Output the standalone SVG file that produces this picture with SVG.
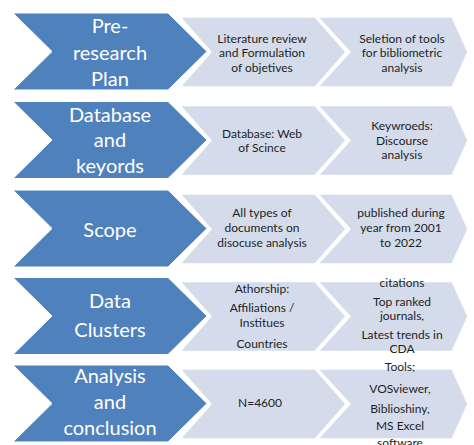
<svg xmlns="http://www.w3.org/2000/svg" xmlns:xlink="http://www.w3.org/1999/xlink" width="474" height="445" viewBox="0 0 474 445">
  <style>
    .stage { fill: #4f81bd; stroke: #ffffff; stroke-width: 1; }
    .step { fill: #d4dbea; stroke: #ffffff; stroke-width: 1.5; stroke-linejoin: round; }
    .stage-text { font-family: Lato, "Liberation Sans", sans-serif; font-size: 20px; fill: #ffffff; text-anchor: middle; }
    .step-text { font-family: Lato, "Liberation Sans", sans-serif; font-size: 12px; fill: #1f1f1f; text-anchor: middle; }
  </style>
  <defs>
    <!-- shapes drawn for a row whose top edge is at y=0 -->
    <path id="stageShape" d="M13,0 L168,0 L207,38.5 L168,77 L13,77 L52,38.5 Z"/>
    <path id="stepShapeA" d="M180,4 L315,4 L346,39 L315,74 L180,74 L211,39 Z"/>
    <path id="stepShapeB" d="M318,4 L452,4 L468,39 L452,74 L318,74 L350,39 Z"/>
  </defs>

  <rect width="474" height="445" fill="#ffffff"/>

  <!-- Row 1 -->
  <g id="row1-detail-b"><use xlink:href="#stepShapeB" class="step" transform="translate(0,13)"/>
    <text class="step-text"><tspan x="402" y="42.5">Seletion of tools</tspan><tspan x="402" y="57">for bibliometric</tspan><tspan x="402" y="71.5">analysis</tspan></text></g>
  <g id="row1-detail-a"><use xlink:href="#stepShapeA" class="step" transform="translate(0,13)"/>
    <text class="step-text"><tspan x="262" y="42.5">Literature review</tspan><tspan x="262" y="57">and Formulation</tspan><tspan x="262" y="71.5">of objetives</tspan></text></g>
  <g id="pre-research-plan"><use xlink:href="#stageShape" class="stage" transform="translate(0,13)"/>
    <text class="stage-text"><tspan x="110" y="33">Pre-</tspan><tspan x="110" y="59.5">research</tspan><tspan x="110" y="85.5">Plan</tspan></text></g>

  <!-- Row 2 -->
  <g id="row2-detail-b"><use xlink:href="#stepShapeB" class="step" transform="translate(0,101.5)"/>
    <text class="step-text"><tspan x="402" y="129.5">Keywroeds:</tspan><tspan x="402" y="144.5">Discourse</tspan><tspan x="402" y="158.5">analysis</tspan></text></g>
  <g id="row2-detail-a"><use xlink:href="#stepShapeA" class="step" transform="translate(0,101.5)"/>
    <text class="step-text"><tspan x="262" y="137.5">Database:  Web</tspan><tspan x="262" y="152">of Scince</tspan></text></g>
  <g id="database-and-keyords"><use xlink:href="#stageShape" class="stage" transform="translate(0,101.5)"/>
    <text class="stage-text"><tspan x="110" y="121.5">Database</tspan><tspan x="110" y="147">and</tspan><tspan x="110" y="172.5">keyords</tspan></text></g>

  <!-- Row 3 -->
  <g id="row3-detail-b"><use xlink:href="#stepShapeB" class="step" transform="translate(0,190)"/>
    <text class="step-text"><tspan x="401" y="216.5">published during</tspan><tspan x="401" y="231.5">year from 2001</tspan><tspan x="401" y="246.5">to 2022</tspan></text></g>
  <g id="row3-detail-a"><use xlink:href="#stepShapeA" class="step" transform="translate(0,190)"/>
    <text class="step-text"><tspan x="262" y="216.5">All types of</tspan><tspan x="262" y="231.5">documents on</tspan><tspan x="262" y="246.5">disocuse analysis</tspan></text></g>
  <g id="scope"><use xlink:href="#stageShape" class="stage" transform="translate(0,190)"/>
    <text class="stage-text" x="110" y="236.5">Scope</text></g>

  <!-- Row 4 -->
  <g id="row4-detail-b"><use xlink:href="#stepShapeB" class="step" transform="translate(0,277.5)"/>
    <text class="step-text"><tspan x="402" y="286.5">citations</tspan><tspan x="402" y="305.5">Top ranked</tspan><tspan x="402" y="319.5">journals,</tspan><tspan x="402" y="338.5">Latest trends in</tspan><tspan x="402" y="352.5">CDA</tspan></text></g>
  <g id="row4-detail-a"><use xlink:href="#stepShapeA" class="step" transform="translate(0,277.5)"/>
    <text class="step-text"><tspan x="262" y="292.5">Athorship:</tspan><tspan x="262" y="311.5">Affiliations /</tspan><tspan x="262" y="326.5">Institues</tspan><tspan x="262" y="347.5">Countries</tspan></text></g>
  <g id="data-clusters"><use xlink:href="#stageShape" class="stage" transform="translate(0,277.5)"/>
    <text class="stage-text"><tspan x="110" y="308">Data</tspan><tspan x="110" y="336.5">Clusters</tspan></text></g>

  <!-- Row 5 -->
  <g id="row5-detail-b"><use xlink:href="#stepShapeB" class="step" transform="translate(0,365)"/>
    <text class="step-text"><tspan x="400" y="371">Tools;</tspan><tspan x="400" y="392.5">VOSviewer,</tspan><tspan x="400" y="412.5">Biblioshiny,</tspan><tspan x="400" y="430">MS Excel</tspan><tspan x="400" y="446.5">software</tspan></text></g>
  <g id="row5-detail-a"><use xlink:href="#stepShapeA" class="step" transform="translate(0,365)"/>
    <text class="step-text" x="260" y="406.5">N=4600</text></g>
  <g id="analysis-and-conclusion"><use xlink:href="#stageShape" class="stage" transform="translate(0,365)"/>
    <text class="stage-text"><tspan x="110" y="383">Analysis</tspan><tspan x="110" y="409">and</tspan><tspan x="110" y="435">conclusion</tspan></text></g>
</svg>
